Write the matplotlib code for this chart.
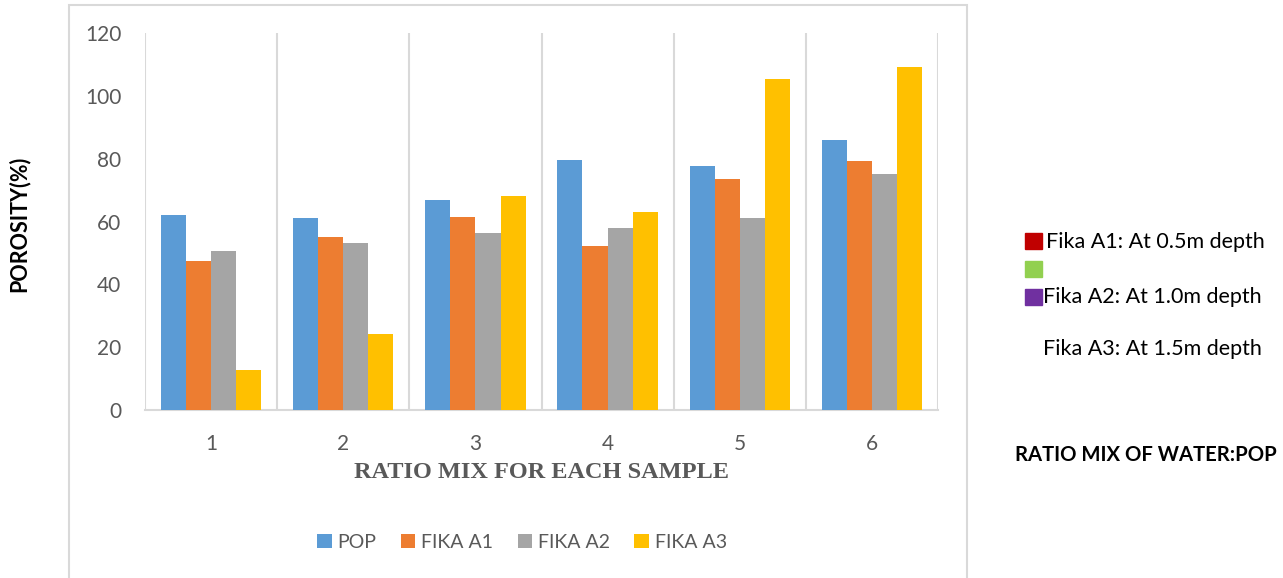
import numpy as np
import matplotlib.pyplot as plt
import matplotlib.patches as mpatches

# Données
echantillons = ['1', '2', '3', '4', '5', '6']
series = ['POP', 'FIKA A1', 'FIKA A2', 'FIKA A3']
pop = [62, 61, 67, 79.7, 77.8, 86]
fika_a1 = [47.4, 55, 61.5, 52.2, 73.6, 79.3]
fika_a2 = [50.6, 53.2, 56.2, 57.8, 61.2, 75]
fika_a3 = [12.7, 24.3, 68.2, 63.1, 105.4, 109.3]
yticks = [0, 20, 40, 60, 80, 100, 120]

couleurs = ['#5B9BD5', '#ED7D31', '#A5A5A5', '#FFC000']
gris_txt = '#595959'
gris_ligne = '#D9D9D9'

plt.rcParams['font.family'] = ['Lato', 'DejaVu Sans']

fig = plt.figure(figsize=(12.83, 5.78), dpi=100)
ax = fig.add_axes([145/1283, 1-410/578, (938-145)/1283, (410-33)/578])

x = np.arange(1, len(echantillons) + 1)
w = 0.19
valeurs = [pop, fika_a1, fika_a2, fika_a3]
for k, (nom, v) in enumerate(zip(series, valeurs)):
    ax.bar(x + (k - 1.5) * w, v, w, color=couleurs[k], label=nom, zorder=3)

ax.set_xlim(0.5, 6.5)
ax.set_ylim(0, 120)
ax.set_xticks(x)
ax.set_xticklabels(echantillons)
ax.set_yticks(yticks)
ax.set_xticks(np.arange(0.5, 7, 1), minor=True)
ax.grid(True, which='minor', axis='x', color=gris_ligne, linewidth=1.5, zorder=0)
ax.tick_params(axis='both', which='both', length=0, colors=gris_txt, labelsize=15)
ax.tick_params(axis='x', pad=17)
ax.tick_params(axis='y', pad=17)
for s in ['top', 'right', 'left']:
    ax.spines[s].set_visible(False)
ax.spines['bottom'].set_color(gris_ligne)
ax.spines['bottom'].set_linewidth(1.5)

# Titres des axes
fig.text(19/1283, 1-224/578, 'POROSITY(%)', rotation=90, ha='center', va='center',
         fontsize=15.5, fontweight='bold', color='black')
fig.text(541/1283, 1-473/578, 'RATIO MIX FOR EACH SAMPLE', ha='center', va='center',
         fontsize=17.5, fontweight='bold', color=gris_txt, family='Liberation Serif')

leg = fig.legend(loc='center', bbox_to_anchor=(522/1283, 1-542/578), ncol=4, frameon=False,
                 fontsize=14, handlelength=0.75, handleheight=0.75, handletextpad=0.3,
                 columnspacing=1.25, labelcolor=gris_txt)

# Cadre extérieur
fig.patches.append(mpatches.Rectangle((69/1283, -0.01), (967-69)/1283, 1-5/578+0.01,
                                      transform=fig.transFigure, fill=False,
                                      edgecolor=gris_ligne, linewidth=1.5))

# Texte à droite
carres = [('#C00000', 241), ('#92D050', 269), ('#7030A0', 297)]
for c, yc in carres:
    fig.patches.append(mpatches.Rectangle((1025/1283, 1-(yc+8)/578), 17/1283, 16/578,
                                          transform=fig.transFigure, color=c))
fig.text(1046/1283, 1-242/578, 'Fika A1: At 0.5m depth', va='center', fontsize=15.5)
fig.text(1043/1283, 1-297/578, 'Fika A2: At 1.0m depth', va='center', fontsize=15.5)
fig.text(1043/1283, 1-349/578, 'Fika A3: At 1.5m depth', va='center', fontsize=15.5)
fig.text(1015/1283, 1-455/578, 'RATIO MIX OF WATER:POP', va='center', fontsize=14.6,
         fontweight='bold')

fig.savefig('out.png', dpi=100)
